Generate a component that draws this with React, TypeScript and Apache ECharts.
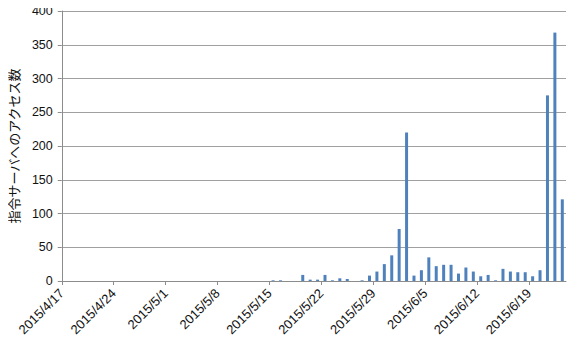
import React, { useEffect, useRef } from "react";
import * as echarts from "echarts";

// Tick labels on the x axis (every 7 days starting 2015/4/17)
const tickLabels = [
  "2015/4/17", "2015/4/24", "2015/5/1", "2015/5/8", "2015/5/15",
  "2015/5/22", "2015/5/29", "2015/6/5", "2015/6/12", "2015/6/19",
];

// Daily access counts from 2015/4/17 (index 0) to 2015/6/23 (index 67)
const dailyCounts = [
  0, 0, 0, 0, 0, 0, 0, 0, 0, 0, // 4/17 - 4/26
  0, 0, 0, 0, 0, 0, 0, 0, 0, 0, // 4/27 - 5/6
  0, 0, 0, 0, 0, 0, 0, 0, 1, 1, // 5/7 - 5/16
  0, 0, 9, 2, 2, 9, 1, 4, 3, 0, // 5/17 - 5/26
  1, 8, 14, 25, 38, 77, 220, 8, 16, 35, // 5/27 - 6/5
  22, 24, 24, 11, 20, 14, 7, 9, 1, 18, // 6/6 - 6/15
  14, 13, 13, 7, 16, 275, 368, 121, // 6/16 - 6/23
];

const yTicks = { min: 0, max: 400, interval: 50 };
const yName = "指令サーバへのアクセス数";

export default function App() {
  const ref = useRef<HTMLDivElement>(null);
  useEffect(() => {
    if (!ref.current) return;
    const chart = echarts.init(ref.current, undefined, { renderer: "svg" });
    const font = "'Liberation Sans', 'Noto Sans CJK JP', sans-serif";
    chart.setOption({
      animation: false,
      grid: { left: 60, right: 17, top: 11, bottom: 63 },
      xAxis: {
        type: "value",
        min: 0,
        max: dailyCounts.length,
        interval: 7,
        splitLine: { show: false },
        axisLine: { show: true, lineStyle: { color: "#8c8c8c", width: 1 } },
        axisTick: { show: true, length: 4, lineStyle: { color: "#8c8c8c" } },
        axisLabel: {
          rotate: 45,
          margin: 10,
          fontSize: 13,
          color: "#111",
          fontFamily: font,
          showMaxLabel: false,
          formatter: (v: number) => (v % 7 === 0 && tickLabels[v / 7]) || "",
        },
      },
      yAxis: {
        type: "value",
        min: yTicks.min,
        max: yTicks.max,
        interval: yTicks.interval,
        name: yName,
        nameLocation: "middle",
        nameGap: 37,
        nameTextStyle: { fontSize: 13, color: "#111", fontFamily: font },
        axisLine: { show: true, lineStyle: { color: "#8c8c8c", width: 1 } },
        axisTick: { show: true, length: 4, lineStyle: { color: "#8c8c8c" } },
        axisLabel: { fontSize: 12.5, color: "#111", fontFamily: font, margin: 9 },
        splitLine: { show: true, lineStyle: { color: "#a0a0a0", width: 1 } },
      },
      series: [
        {
          type: "bar",
          barWidth: 3,
          itemStyle: { color: "#4f81bd" },
          data: dailyCounts.map((v, i) => [i + 0.5, v]),
        },
      ],
    });
    return () => chart.dispose();
  }, []);
  return <div ref={ref} style={{ width: 583, height: 344, margin: -8 }} />;
}
